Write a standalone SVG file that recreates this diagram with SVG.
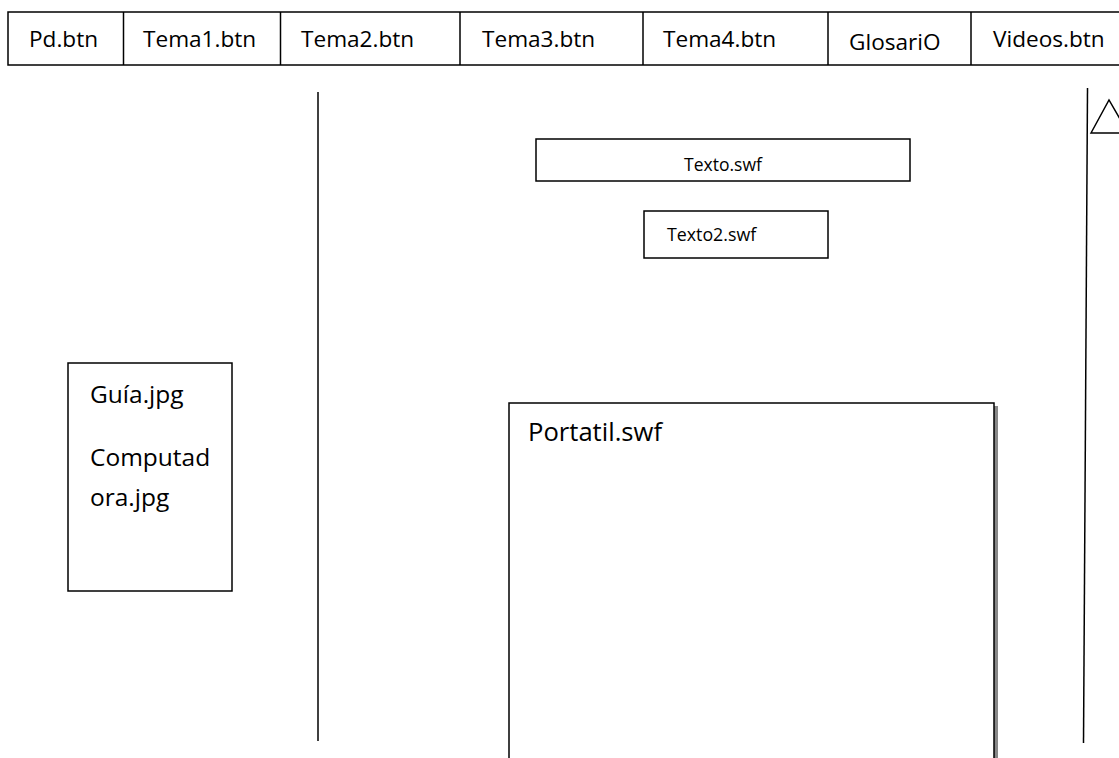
<svg xmlns="http://www.w3.org/2000/svg" width="1119" height="758" viewBox="0 0 1119 758">
<style>
.b{fill:#fff;stroke:#000;stroke-width:1.5}
.l{stroke:#000;stroke-width:1.5;fill:none}
.t{font-family:"Open Sans","Liberation Sans",sans-serif;fill:#000}
</style>
<rect width="1119" height="758" fill="#fff"/>
<g id="menu">
<rect class="b" x="8" y="12" width="1116" height="53"/>
<line class="l" x1="123.5" y1="12" x2="123.5" y2="65"/>
<line class="l" x1="280.5" y1="12" x2="280.5" y2="65"/>
<line class="l" x1="460" y1="12" x2="460" y2="65"/>
<line class="l" x1="643" y1="12" x2="643" y2="65"/>
<line class="l" x1="828" y1="12" x2="828" y2="65"/>
<line class="l" x1="971" y1="12" x2="971" y2="65"/>
<g class="t" font-size="22.6">
<text x="29" y="47">Pd.btn</text>
<text x="143" y="47">Tema1.btn</text>
<text x="301" y="47">Tema2.btn</text>
<text x="482" y="47">Tema3.btn</text>
<text x="663" y="46.5">Tema4.btn</text>
<text x="849" y="50">GlosariO</text>
<text x="993" y="46.5">Videos.btn</text>
</g>
</g>
<g id="connectors">
<line class="l" x1="318" y1="92" x2="318" y2="741"/>
<line class="l" x1="1087.5" y1="88" x2="1083.5" y2="743"/>
</g>
<g id="scroll">
<polygon class="b" points="1091,133 1109,100 1128,133"/>
</g>
<g id="texto">
<rect class="b" x="536" y="139" width="374" height="42"/>
<text class="t" x="723" y="171" font-size="17.5" text-anchor="middle">Texto.swf</text>
</g>
<g id="texto2">
<rect class="b" x="644" y="211" width="184" height="47"/>
<text class="t" x="667" y="240.5" font-size="17.8">Texto2.swf</text>
</g>
<g id="guia">
<rect class="b" x="68" y="363" width="164" height="228"/>
<g class="t" font-size="24.5">
<text x="90" y="403">Guía.jpg</text>
<text x="90" y="466">Computad</text>
<text x="90" y="506">ora.jpg</text>
</g>
</g>
<g id="portatil">
<rect x="994" y="406" width="4" height="360" fill="#888"/>
<rect class="b" x="509" y="403" width="485" height="370"/>
<text class="t" x="528" y="441" font-size="25.6">Portatil.swf</text>
</g>
</svg>
